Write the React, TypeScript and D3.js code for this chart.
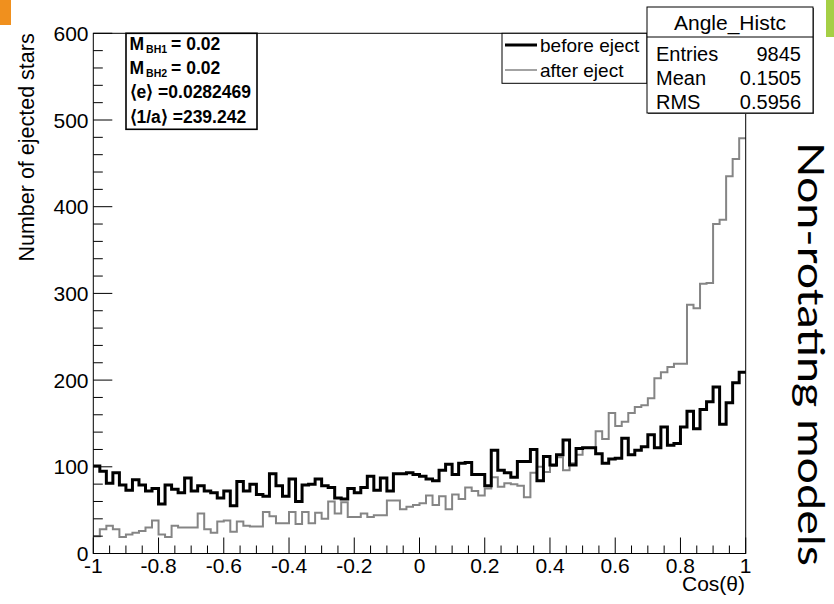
import React from "react";
import * as d3 from "d3";

// ---------------- data ----------------
const xMin = -1;
const xMax = 1;
const nBins = 100;

const beforeEject = [
  101, 95, 81, 93, 79, 73, 85, 79, 72, 75,
  57, 79, 74, 70, 87, 72, 78, 72, 70, 64,
  72, 55, 83, 72, 80, 68, 66, 92, 78, 66,
  86, 60, 79, 80, 86, 78, 76, 64, 63, 75,
  70, 76, 89, 73, 87, 72, 92, 92, 93, 91,
  89, 86, 84, 96, 103, 91, 104, 105, 91, 91,
  78, 119, 96, 93, 88, 106, 106, 120, 84, 112,
  102, 114, 131, 102, 121, 122, 122, 115, 104, 109,
  110, 133, 114, 119, 123, 137, 122, 146, 125, 127,
  146, 164, 144, 166, 175, 192, 149, 174, 197, 209,
];

const afterEject = [
  20, 28, 32, 28, 19, 22, 24, 26, 30, 38,
  22, 19, 32, 30, 30, 30, 46, 28, 24, 37,
  38, 25, 37, 32, 31, 31, 48, 43, 35, 35,
  48, 34, 48, 35, 47, 40, 60, 46, 59, 42,
  42, 46, 42, 44, 44, 61, 61, 51, 54, 56,
  58, 67, 56, 66, 51, 68, 63, 76, 72, 67,
  75, 88, 77, 81, 80, 78, 65, 93, 100, 94,
  101, 111, 96, 104, 114, 122, 122, 141, 132, 162,
  147, 152, 162, 169, 171, 179, 202, 209, 215, 219,
  219, 287, 283, 311, 312, 380, 385, 435, 455, 479,
];

const xTickValues = [-1, -0.8, -0.6, -0.4, -0.2, 0, 0.2, 0.4, 0.6, 0.8, 1];
const xTickLabels = ["-1", "-0.8", "-0.6", "-0.4", "-0.2", "0", "0.2", "0.4", "0.6", "0.8", "1"];
const yTickValues = [0, 100, 200, 300, 400, 500, 600];
const yTickLabels = ["0", "100", "200", "300", "400", "500", "600"];

const legendLabels = ["before eject", "after eject"];
const statNames = ["Entries", "Mean", "RMS"];
const statValues = ["9845", "0.1505", "0.5956"];
const histName = "Angle_Histc";

const FONT = "'Liberation Sans', Arial, Helvetica, sans-serif";

export default function App() {
  const W = 834;
  const H = 604;
  const left = 93.3;
  const right = 745.7;
  const top = 33.3;
  const bottom = 553.5;

  const x = d3.scaleLinear().domain([xMin, xMax]).range([left, right]);
  const y = d3.scaleLinear().domain([0, 600]).range([bottom, top]);

  const bw = (xMax - xMin) / nBins;
  const edges = d3.range(nBins + 1).map((i) => xMin + i * bw);
  const pts = (vals: number[]) =>
    [...vals.map((v, i) => [edges[i], v] as [number, number]), [edges[nBins], vals[nBins - 1]] as [number, number]];
  const line = d3
    .line<[number, number]>()
    .x((d) => x(d[0]))
    .y((d) => y(d[1]))
    .curve(d3.curveStepAfter);

  const xMinor = d3.range(0, 41).map((i) => xMin + i * 0.05).filter((_, i) => i % 4 !== 0);
  const yMinor = d3.range(0, 31).map((i) => i * 20).filter((_, i) => i % 5 !== 0);

  const majX = 16;
  const minX = 8;
  const majY = 19;
  const minY = 9.5;

  return (
    <svg
      width={W}
      height={H}
      style={{ position: "absolute", left: 0, top: 0, background: "#fff" }}
      fontFamily={FONT}
    >
      <rect x={0} y={0} width={W} height={H} fill="#fff" />
      {/* decorations */}
      <rect x={0} y={0} width={11} height={25} fill="#F0901E" />
      <rect x={826} y={0} width={8} height={37} fill="#A5CF45" />

      {/* histograms */}
      <path d={line(pts(afterEject)) || ""} fill="none" stroke="#858585" strokeWidth={2} />
      <path d={line(pts(beforeEject)) || ""} fill="none" stroke="#000" strokeWidth={3} />

      {/* frame */}
      <rect x={left} y={top} width={right - left} height={bottom - top} fill="none" stroke="#000" strokeWidth={1} />

      {/* x ticks */}
      {xTickValues.map((v) => (
        <line key={"xt" + v} x1={x(v)} x2={x(v)} y1={bottom} y2={bottom - majX} stroke="#000" strokeWidth={1} />
      ))}
      {xMinor.map((v, i) => (
        <line key={"xm" + i} x1={x(v)} x2={x(v)} y1={bottom} y2={bottom - minX} stroke="#000" strokeWidth={1} />
      ))}
      {xTickValues.map((v, i) => (
        <text key={"xl" + i} x={x(v)} y={573} fontSize={21} textAnchor="middle" fill="#000">
          {xTickLabels[i]}
        </text>
      ))}

      {/* y ticks */}
      {yTickValues.map((v) => (
        <line key={"yt" + v} x1={left} x2={left + majY} y1={y(v)} y2={y(v)} stroke="#000" strokeWidth={1} />
      ))}
      {yMinor.map((v, i) => (
        <line key={"ym" + i} x1={left} x2={left + minY} y1={y(v)} y2={y(v)} stroke="#000" strokeWidth={1} />
      ))}
      {yTickValues.map((v, i) => (
        <text key={"yl" + i} x={88.5} y={y(v) + 7.5} fontSize={21} textAnchor="end" fill="#000">
          {yTickLabels[i]}
        </text>
      ))}

      {/* axis titles */}
      <text x={745} y={591} fontSize={21} textAnchor="end" fill="#000">
        Cos(θ)
      </text>
      <text
        transform={`translate(34,${top}) rotate(-90)`}
        fontSize={21.5}
        textAnchor="end"
        fill="#000"
      >
        Number of ejected stars
      </text>

      {/* info pave */}
      <rect x={126} y={top} width={131} height={96} fill="#fff" stroke="#000" strokeWidth={1.6} />
      <g fontWeight="bold" fill="#000">
        <text x={129.5} y={49.5} fontSize={17.5}>
          M<tspan fontSize={10.5} dx={2} dy={3}>BH1</tspan>
          <tspan dx={4} dy={-3}>= 0.02</tspan>
        </text>
        <text x={129.5} y={73.5} fontSize={17.5}>
          M<tspan fontSize={10.5} dx={2} dy={3}>BH2</tspan>
          <tspan dx={4} dy={-3}>= 0.02</tspan>
        </text>
        <text x={129.5} y={98} fontSize={17.5}>
          ⟨e⟩ =0.0282469
        </text>
        <text x={129.5} y={122.5} fontSize={17.5}>
          ⟨1/a⟩ =239.242
        </text>
      </g>

      {/* legend */}
      <rect x={502} y={top} width={145} height={50} fill="#fff" stroke="#000" strokeWidth={1} />
      <line x1={505} x2={537} y1={45} y2={45} stroke="#000" strokeWidth={3} />
      <line x1={505} x2={537} y1={70} y2={70} stroke="#858585" strokeWidth={1.5} />
      <text x={540} y={51.5} fontSize={19} fill="#000">
        {legendLabels[0]}
      </text>
      <text x={540} y={76.5} fontSize={19} fill="#000">
        {legendLabels[1]}
      </text>

      {/* stats box */}
      <rect x={648} y={8} width={166} height={106} fill="#555" />
      <rect x={647} y={7} width={166} height={106} fill="#fff" stroke="#000" strokeWidth={1} />
      <line x1={647} x2={813} y1={37} y2={37} stroke="#000" strokeWidth={1} />
      <text x={730} y={29.5} fontSize={21} textAnchor="middle" fill="#000">
        {histName}
      </text>
      {statNames.map((n, i) => (
        <g key={n}>
          <text x={656} y={61 + i * 24} fontSize={20} fill="#000">
            {n}
          </text>
          <text x={801} y={61 + i * 24} fontSize={20} textAnchor="end" fill="#000">
            {statValues[i]}
          </text>
        </g>
      ))}

      {/* side label */}
      <text
        transform="translate(798,142) rotate(90)"
        fontFamily="Lato, 'Open Sans', sans-serif"
        fontSize={37}
        textLength={424}
        lengthAdjust="spacingAndGlyphs"
        fill="#000"
      >
        Non-rotating models
      </text>
    </svg>
  );
}
